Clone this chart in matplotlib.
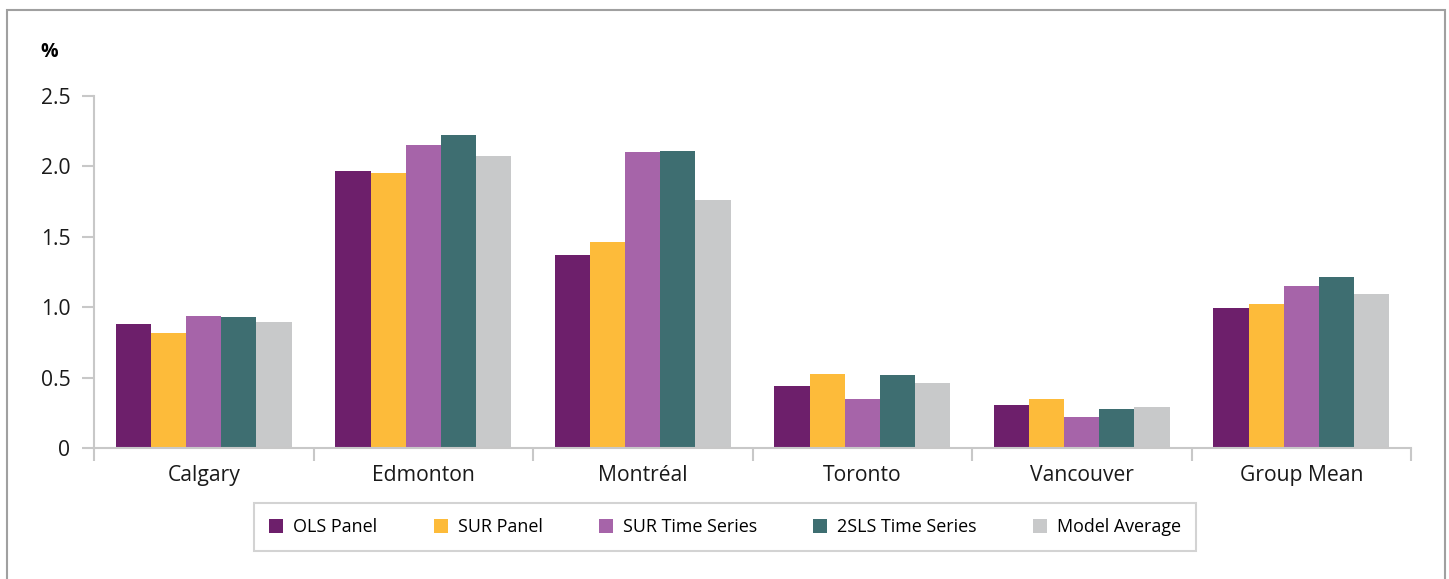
import numpy as np
import matplotlib
matplotlib.use('Agg')
import matplotlib.pyplot as plt
from matplotlib.patches import Rectangle

plt.rcParams['font.family'] = ['Open Sans', 'DejaVu Sans']

cities = ['Calgary', 'Edmonton', 'Montréal', 'Toronto', 'Vancouver', 'Group Mean']
series = ['OLS Panel', 'SUR Panel', 'SUR Time Series', '2SLS Time Series', 'Model Average']
ols_panel = [0.88, 1.97, 1.37, 0.44, 0.305, 0.995]
sur_panel = [0.82, 1.95, 1.46, 0.525, 0.35, 1.02]
sur_ts = [0.94, 2.15, 2.10, 0.35, 0.22, 1.15]
tsls_ts = [0.93, 2.22, 2.11, 0.52, 0.28, 1.215]
model_avg = [0.895, 2.075, 1.76, 0.46, 0.29, 1.095]
colors = ['#6D1F6B', '#FDBB3A', '#A664A9', '#3E6E71', '#C8C9CA']

fig = plt.figure(figsize=(14.49, 5.79), dpi=100)
ax = fig.add_axes([0.0649, 0.2263, 0.9089, 0.6079])

x = np.arange(len(cities))
w = 0.16
for i, (vals, name) in enumerate(zip([ols_panel, sur_panel, sur_ts, tsls_ts, model_avg], series)):
    ax.bar(x + (i - 2) * w, vals, w, color=colors[i], label=name, zorder=2)

ax.set_xlim(-0.5, len(cities) - 0.5)
ax.set_ylim(0, 2.5)
ax.set_yticks([0, 0.5, 1.0, 1.5, 2.0, 2.5])
ax.set_yticklabels(['0', '0.5', '1.0', '1.5', '2.0', '2.5'])
ax.set_xticks(x)
ax.set_xticklabels(cities)
ax.set_xticks(np.arange(-0.5, len(cities)), minor=True)
ax.tick_params(axis='x', which='major', length=0, pad=12, labelsize=15.2, colors='#1a1a1a')
ax.tick_params(axis='x', which='minor', length=9, width=1.5, color='#C8C8C8')
ax.tick_params(axis='y', length=9, width=1.5, color='#C8C8C8', pad=8, labelsize=15.2, labelcolor='#1a1a1a')

for s in ['top', 'right']:
    ax.spines[s].set_visible(False)
for s in ['left', 'bottom']:
    ax.spines[s].set_color('#C8C8C8')
    ax.spines[s].set_linewidth(1.5)

fig.text(40 / 1449, 1 - 52 / 579, '%', fontsize=14, fontweight='bold', va='center', ha='left')

leg = fig.legend(loc='center', bbox_to_anchor=(0.5005, 1 - 527 / 579), ncol=5, frameon=True,
                 fancybox=False, fontsize=12.9, handlelength=0.78, handleheight=0.78,
                 handletextpad=0.55, columnspacing=3.15, borderpad=0.85, borderaxespad=0)
leg.get_frame().set_edgecolor('#C8C8C8')
leg.get_frame().set_linewidth(1.5)

fig.patches.append(Rectangle((7 / 1449, -0.1), 1438 / 1449, 1.1 - 10 / 579, transform=fig.transFigure,
                             fill=False, edgecolor='#A0A0A0', linewidth=1.5))

fig.savefig('out.png', dpi=100)
